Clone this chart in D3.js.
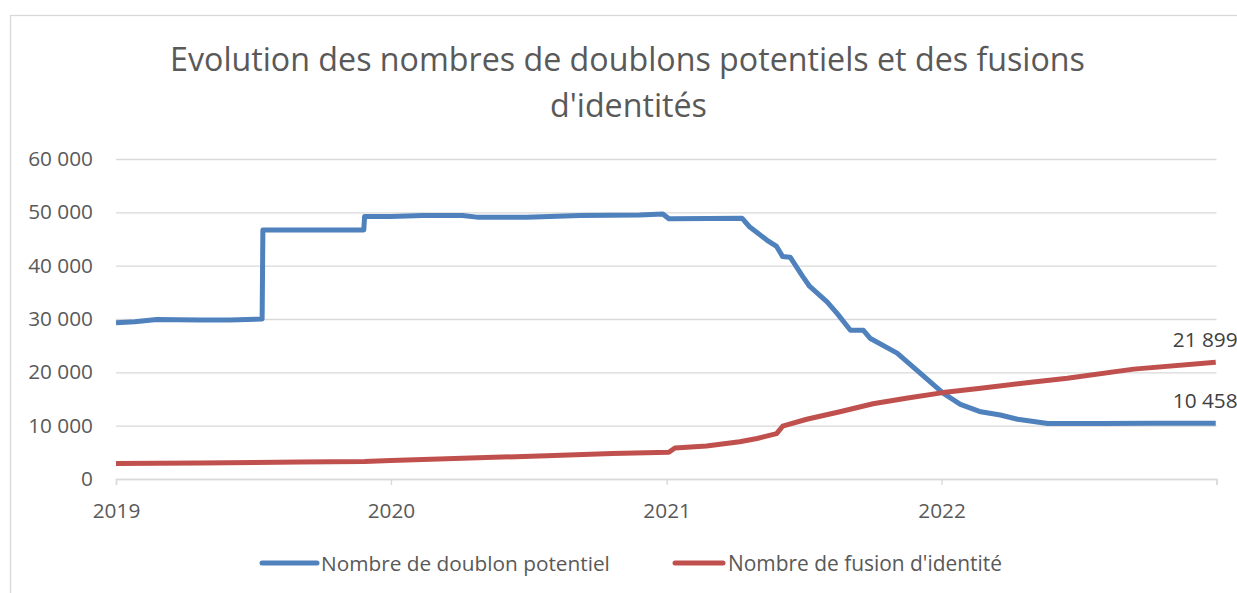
<!DOCTYPE html>
<html>
<head>
<meta charset="utf-8">
<script src="https://cdn.jsdelivr.net/npm/d3@7"></script>
<style>
  html, body { margin: 0; padding: 0; background: #fff; overflow: hidden; }
  svg { display: block; font-family: "Open Sans", sans-serif; }
</style>
</head>
<body>
<svg id="chart" width="1237" height="593"></svg>
<script>
// ---- Data ----
const titleLines = ["Evolution des nombres de doublons potentiels et des fusions", "d'identités"];
const seriesNames = ["Nombre de doublon potentiel", "Nombre de fusion d'identité"];
const yTicks = [0, 10000, 20000, 30000, 40000, 50000, 60000];
const xTickYears = ["2019", "2020", "2021", "2022"];
const xEnd = "2023-01-01";

const doublonDates = ["2019-01-01","2019-01-26","2019-02-24","2019-04-22","2019-06-01","2019-07-14","2019-07-15","2019-11-26","2019-11-27","2020-01-01","2020-02-12","2020-04-05","2020-04-24","2020-06-29","2020-09-08","2020-11-26","2020-12-27","2021-01-04","2021-01-09","2021-04-11","2021-04-21","2021-05-14","2021-05-27","2021-06-04","2021-06-14","2021-07-01","2021-07-10","2021-08-02","2021-08-15","2021-09-02","2021-09-19","2021-09-28","2021-11-03","2021-12-04","2022-01-03","2022-01-26","2022-02-22","2022-03-20","2022-04-12","2022-05-22","2022-07-31","2022-10-05","2022-12-31"];
const doublonValues = [29300,29500,29900,29800,29800,30000,46700,46700,49200,49200,49400,49400,49100,49100,49400,49500,49700,48800,48800,48900,47300,44800,43600,41700,41600,37900,36100,33200,31100,27900,27900,26400,23600,19800,16100,14000,12600,12000,11200,10400,10400,10450,10458];

const fusionDates = ["2019-01-01","2019-04-22","2019-09-02","2019-11-27","2020-01-01","2020-04-05","2020-07-26","2020-10-21","2021-01-04","2021-01-12","2021-02-23","2021-04-08","2021-05-01","2021-05-27","2021-06-04","2021-07-06","2021-08-19","2021-10-02","2021-11-17","2022-01-03","2022-02-22","2022-05-03","2022-06-17","2022-09-13","2022-12-31"];
const fusionValues = [2900,3000,3200,3300,3450,3880,4370,4800,5000,5800,6200,7000,7600,8500,9900,11200,12600,14100,15200,16200,17000,18200,18900,20600,21899];

const colors = ["#4F81BD", "#C0504D"];
const textColor = "#595959";
const gridColor = "#D9D9D9";

// ---- Setup ----
const svg = d3.select("#chart");
const parse = d3.timeParse("%Y-%m-%d");
const fmt = v => d3.format(",")(v).replace(/,/g, " ");

const x = d3.scaleTime()
  .domain([parse(xTickYears[0] + "-01-01"), parse(xEnd)])
  .range([116, 1216.5]);
const y = d3.scaleLinear().domain([0, 60000]).range([479, 159]);

function fitWidth(sel, target) {
  const w = sel.node().getComputedTextLength();
  const fs = parseFloat(sel.attr("font-size"));
  sel.attr("font-size", (fs * target / w).toFixed(2));
}

// chart border
svg.append("rect")
  .attr("x", 10.5).attr("y", 15.5)
  .attr("width", 1300).attr("height", 700)
  .attr("fill", "none").attr("stroke", gridColor).attr("stroke-width", 1.3);

// Title
const tl1 = svg.append("text").attr("x", 627.5).attr("y", 71)
  .attr("text-anchor", "middle").attr("fill", textColor)
  .attr("font-size", 34).text(titleLines[0]);
fitWidth(tl1, 915);
const tl2 = svg.append("text").attr("x", 628.5).attr("y", 116.5)
  .attr("text-anchor", "middle").attr("fill", textColor)
  .attr("font-size", 34).text(titleLines[1]);
tl2.attr("font-size", tl1.attr("font-size"));

// Y gridlines + labels via axis
const yAxis = d3.axisLeft(y).tickValues(yTicks)
  .tickSize(-(x.range()[1] - x.range()[0])).tickFormat(fmt).tickPadding(23);
const gy = svg.append("g").attr("transform", `translate(${x.range()[0]},0)`).call(yAxis);
gy.select(".domain").remove();
gy.selectAll(".tick line").attr("stroke", gridColor).attr("stroke-width", 1.4);
gy.selectAll(".tick text").attr("fill", textColor).attr("font-size", 20.8)
  .attr("font-family", "Open Sans, sans-serif");

// X axis
const xTickDates = xTickYears.map(s => parse(s + "-01-01")).concat([parse(xEnd)]);
const xAxis = d3.axisBottom(x).tickValues(xTickDates).tickSize(6).tickPadding(18)
  .tickFormat((d, i) => i < xTickYears.length ? xTickYears[i] : "");
const gx = svg.append("g").attr("transform", `translate(0,${y(0)})`).call(xAxis);
gx.select(".domain").attr("stroke", gridColor).attr("stroke-width", 1.4);
gx.selectAll(".tick line").attr("stroke", gridColor).attr("stroke-width", 1.4);
gx.selectAll(".tick text").attr("fill", textColor).attr("font-size", 20.8)
  .attr("font-family", "Open Sans, sans-serif");

// Lines
const line = d3.line().x(d => x(d.date)).y(d => y(d.value));
const series = [
  doublonDates.map((d, i) => ({ date: parse(d), value: doublonValues[i] })),
  fusionDates.map((d, i) => ({ date: parse(d), value: fusionValues[i] }))
];
series.forEach((s, i) => {
  svg.append("path").datum(s)
    .attr("d", line).attr("fill", "none")
    .attr("stroke", colors[i]).attr("stroke-width", 5)
    .attr("stroke-linejoin", "round").attr("stroke-linecap", "butt");
});

// End data labels
series.forEach((s, i) => {
  const last = s[s.length - 1];
  svg.append("text")
    .attr("x", x(last.date) - 43).attr("y", y(last.value) - 15)
    .attr("fill", "#404040").attr("font-size", 20.8)
    .text(fmt(last.value));
});

// Legend
const legendItems = [
  { x1: 262, x2: 317, tx: 321, tw: 289 },
  { x1: 675, x2: 723, tx: 728, tw: 274 }
];
legendItems.forEach((L, i) => {
  svg.append("line").attr("x1", L.x1).attr("x2", L.x2)
    .attr("y1", 563).attr("y2", 563)
    .attr("stroke", colors[i]).attr("stroke-width", 5).attr("stroke-linecap", "round");
  const t = svg.append("text").attr("x", L.tx).attr("y", 570.5)
    .attr("fill", textColor).attr("font-size", 20).text(seriesNames[i]);
  fitWidth(t, L.tw);
});
</script>
</body>
</html>
